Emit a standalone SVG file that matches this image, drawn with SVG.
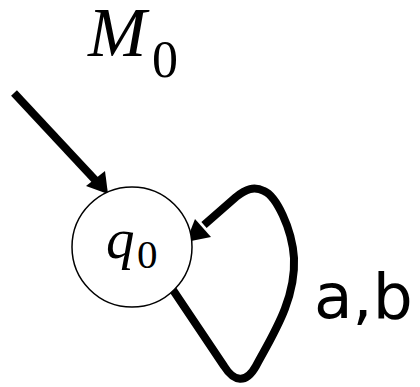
<svg xmlns="http://www.w3.org/2000/svg" width="420" height="387" viewBox="0 0 420 387">
<style>
.edge{fill:none;stroke:#000;stroke-width:8;stroke-linejoin:round;stroke-linecap:butt}
.head{fill:#000}
.it{font-family:"Liberation Serif",serif;font-style:italic}
.rm{font-family:"Liberation Serif",serif}
</style>
<rect width="420" height="387" fill="#fff"/>
<g id="connectors">
<line class="edge" x1="14" y1="93" x2="97" y2="182"/>
<polygon class="head" points="108,194 86,186 105,171"/>
<path class="edge" d="M173,290 L224,366 C234,382 246,384 256,366 C272,336 296,300 294,258 C292,228 276,196 264,191 C254,186 246,189 236,197 L204,225"/>
<polygon class="head" points="186,242 195,219 211,237"/>
</g>
<g id="label-M0">
<text class="it" x="88" y="56" font-size="70">M</text>
<text class="rm" x="152" y="77" font-size="52">0</text>
</g>
<g id="q0">
<circle cx="132" cy="247" r="60" fill="#fff" stroke="#000" stroke-width="1.5"/>
<text class="it" x="106" y="258" font-size="57">q</text>
<text class="rm" x="137" y="268" font-size="41">0</text>
</g>
<g id="label-ab">
<text x="314" y="318" font-family="DejaVu Sans,sans-serif" font-size="63">a,b</text>
</g>
</svg>
